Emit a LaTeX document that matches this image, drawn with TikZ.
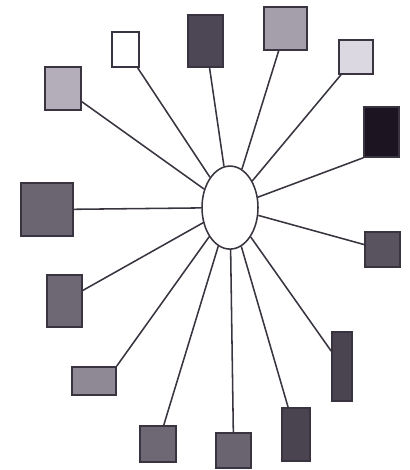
\documentclass[tikz,border=0pt]{standalone}
\usepackage{xcolor}
\usepackage{tikz}
\usetikzlibrary{shapes.geometric}

\definecolor{edgegray}{HTML}{3A3440}
\definecolor{shadeA}{HTML}{B4AEBB}
\definecolor{shadeC}{HTML}{4D4654}
\definecolor{shadeD}{HTML}{A59FAB}
\definecolor{shadeE}{HTML}{DCD8E2}
\definecolor{shadeF}{HTML}{1C1420}
\definecolor{shadeG}{HTML}{6B6571}
\definecolor{shadeH}{HTML}{59535F}
\definecolor{shadeI}{HTML}{6E6874}
\definecolor{shadeJ}{HTML}{8F8995}
\definecolor{shadeL}{HTML}{6A6470}
\definecolor{shadeM}{HTML}{4A4450}

\begin{document}
\begin{tikzpicture}[
    box/.style={draw=edgegray,line width=1.1pt,inner sep=0pt},
    hub/.style={draw=edgegray,line width=1.1pt,ellipse,minimum width=1.4cm,minimum height=2.075cm,inner sep=0pt},
    spoke/.style={draw=edgegray,line width=1.1pt}]
    \useasboundingbox (0,0) rectangle (10.25,11.75);
    \node[hub] (O) at (5.75,6.56) {};
    \node[box,fill=shadeA,minimum width=0.9cm,minimum height=1.075cm] (A) at (1.58,9.54) {};
    \node[box,fill=white,minimum width=0.675cm,minimum height=0.875cm] (B) at (3.14,10.51) {};
    \node[box,fill=shadeC,minimum width=0.875cm,minimum height=1.3cm] (C) at (5.14,10.73) {};
    \node[box,fill=shadeD,minimum width=1.075cm,minimum height=1.075cm] (D) at (7.14,11.04) {};
    \node[box,fill=shadeE,minimum width=0.85cm,minimum height=0.85cm] (E) at (8.9,10.33) {};
    \node[box,fill=shadeF,minimum width=0.875cm,minimum height=1.25cm] (F) at (9.54,8.45) {};
    \node[box,fill=shadeG,minimum width=1.3cm,minimum height=1.325cm] (G) at (1.18,6.51) {};
    \node[box,fill=shadeH,minimum width=0.875cm,minimum height=0.875cm] (H) at (9.56,5.51) {};
    \node[box,fill=shadeI,minimum width=0.875cm,minimum height=1.3cm] (I) at (1.61,4.23) {};
    \node[box,fill=shadeJ,minimum width=1.1cm,minimum height=0.7cm] (J) at (2.35,2.23) {};
    \node[box,fill=shadeI,minimum width=0.9cm,minimum height=0.9cm] (K) at (3.95,0.65) {};
    \node[box,fill=shadeL,minimum width=0.875cm,minimum height=0.875cm] (L) at (5.84,0.49) {};
    \node[box,fill=shadeM,minimum width=0.7cm,minimum height=1.325cm] (M) at (7.4,0.89) {};
    \node[box,fill=shadeM,minimum width=0.5cm,minimum height=1.725cm] (N) at (8.55,2.59) {};
    \draw[spoke] (A) -- (O);
    \draw[spoke] (B) -- (O);
    \draw[spoke] (C) -- (O);
    \draw[spoke] (D) -- (O);
    \draw[spoke] (E) -- (O);
    \draw[spoke] (F.south west) -- (O);
    \draw[spoke] (G) -- (O);
    \draw[spoke] (H) -- (O);
    \draw[spoke] (I) -- (O);
    \draw[spoke] (J.north east) -- (O);
    \draw[spoke] (K) -- (O);
    \draw[spoke] (L) -- (O);
    \draw[spoke] (M) -- (O);
    \draw[spoke] (N) -- (O);
\end{tikzpicture}
\end{document}
